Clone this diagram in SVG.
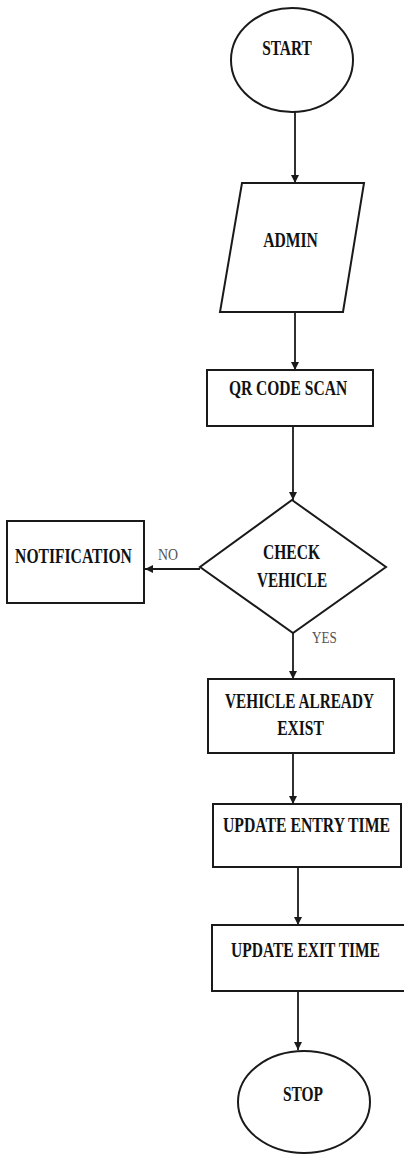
<svg xmlns="http://www.w3.org/2000/svg" width="404" height="1155" viewBox="0 0 404 1155">
<style>
.shape{fill:#fff;stroke:#1a1a1a;stroke-width:2}
.t{font-family:"Liberation Serif","Times New Roman",serif;font-weight:bold;font-size:22px;fill:#111;text-anchor:middle}
.lbl{font-family:"Liberation Serif","Times New Roman",serif;font-size:17px;fill:#555;text-anchor:middle}
.conn{stroke:#1a1a1a;stroke-width:1.8;fill:none;marker-end:url(#arr)}
</style>
<defs>
<marker id="arr" viewBox="0 0 10 10" refX="10" refY="5" markerWidth="4.5" markerHeight="4.5" orient="auto" markerUnits="strokeWidth">
<path d="M0,0 L10,5 L0,10 z" fill="#1a1a1a"/>
</marker>
</defs>
<rect width="404" height="1155" fill="#fff"/>
<g id="connectors">
<line class="conn" x1="295" y1="112" x2="295" y2="183"/>
<line class="conn" x1="295" y1="312" x2="295" y2="370"/>
<line class="conn" x1="293" y1="426" x2="293" y2="500"/>
<line class="conn" x1="200" y1="569" x2="145" y2="569"/>
<line class="conn" x1="293" y1="633" x2="293" y2="679"/>
<line class="conn" x1="293" y1="753" x2="293" y2="804"/>
<line class="conn" x1="298" y1="867" x2="298" y2="925"/>
<line class="conn" x1="298" y1="991" x2="298" y2="1050"/>
<text class="lbl" transform="translate(168,560) scale(0.8,1)" textLength="25" lengthAdjust="spacingAndGlyphs">NO</text>
<text class="lbl" transform="translate(324.5,643) scale(0.8,1)" textLength="31" lengthAdjust="spacingAndGlyphs">YES</text>
</g>
<g id="start">
<ellipse class="shape" cx="292" cy="60" rx="61" ry="52"/>
<text class="t" transform="translate(287,55) scale(0.73,1)" textLength="68" lengthAdjust="spacingAndGlyphs">START</text>
</g>
<g id="admin">
<polygon class="shape" points="242,183 364,183 343,312 220,312"/>
<text class="t" transform="translate(290.5,247) scale(0.73,1)" textLength="75" lengthAdjust="spacingAndGlyphs">ADMIN</text>
</g>
<g id="qr">
<rect class="shape" x="207" y="370" width="166" height="56"/>
<text class="t" transform="translate(288,395) scale(0.73,1)" textLength="162" lengthAdjust="spacingAndGlyphs">QR CODE SCAN</text>
</g>
<g id="check">
<polygon class="shape" points="292,500 386,567 293,633 200,567"/>
<text class="t" transform="translate(291.5,559) scale(0.73,1)" textLength="78" lengthAdjust="spacingAndGlyphs">CHECK</text>
<text class="t" transform="translate(292,587) scale(0.73,1)" textLength="96" lengthAdjust="spacingAndGlyphs">VEHICLE</text>
</g>
<g id="notification">
<rect class="shape" x="7" y="521" width="137" height="82"/>
<text class="t" transform="translate(73.5,563) scale(0.73,1)" textLength="160" lengthAdjust="spacingAndGlyphs">NOTIFICATION</text>
</g>
<g id="exists">
<rect class="shape" x="208" y="679" width="186" height="74"/>
<text class="t" transform="translate(299.5,708) scale(0.73,1)" textLength="204" lengthAdjust="spacingAndGlyphs">VEHICLE ALREADY</text>
<text class="t" transform="translate(300.5,735) scale(0.73,1)" textLength="64" lengthAdjust="spacingAndGlyphs">EXIST</text>
</g>
<g id="entry">
<rect class="shape" x="213" y="804" width="188" height="63"/>
<text class="t" transform="translate(306.5,832) scale(0.73,1)" textLength="229" lengthAdjust="spacingAndGlyphs">UPDATE ENTRY TIME</text>
</g>
<g id="exit">
<rect class="shape" x="212" y="925" width="194" height="66"/>
<text class="t" transform="translate(305.5,957) scale(0.73,1)" textLength="204" lengthAdjust="spacingAndGlyphs">UPDATE EXIT TIME</text>
</g>
<g id="stop">
<ellipse class="shape" cx="304" cy="1102" rx="66" ry="51"/>
<text class="t" transform="translate(303,1101) scale(0.73,1)" textLength="55" lengthAdjust="spacingAndGlyphs">STOP</text>
</g>
</svg>
